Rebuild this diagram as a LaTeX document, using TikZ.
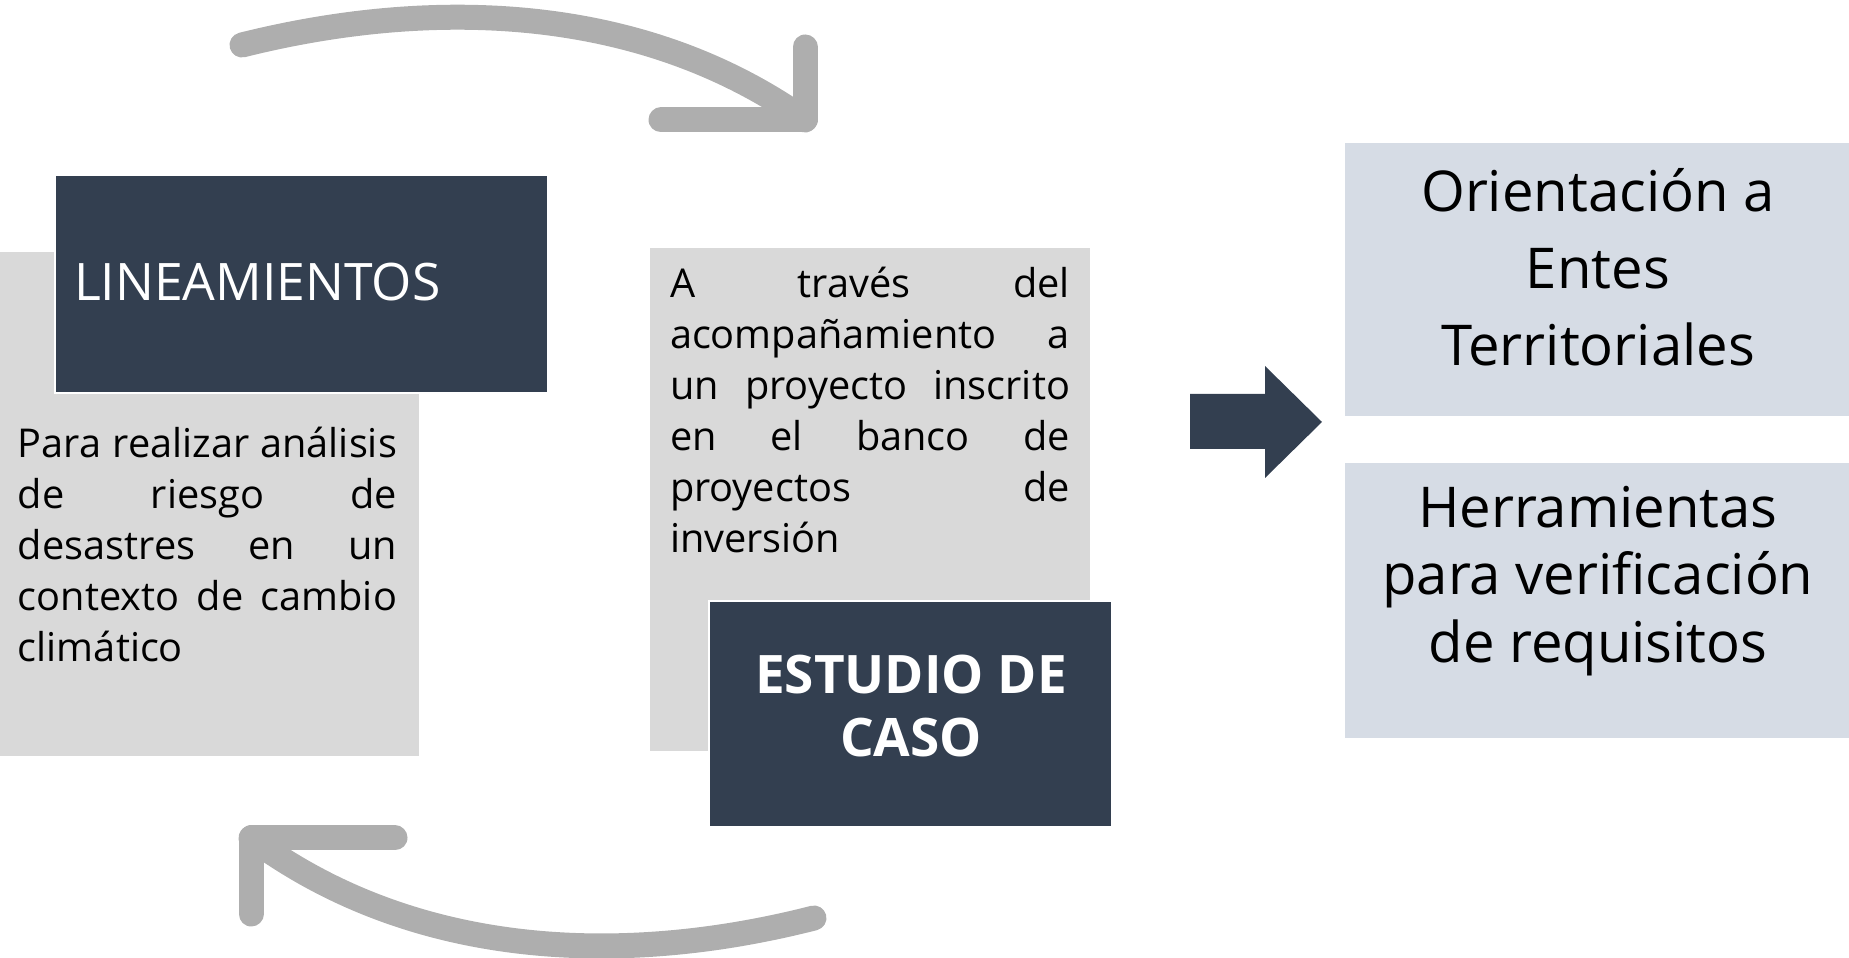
\documentclass[tikz,border=0pt]{standalone}
\usepackage{fontspec}
\setmainfont{Open Sans}
\usetikzlibrary{positioning}
\definecolor{slate}{HTML}{333F50}
\definecolor{lightgrey}{HTML}{D9D9D9}
\definecolor{paleblue}{HTML}{D6DCE5}
\definecolor{cyclegrey}{HTML}{AEAEAE}
\hyphenpenalty=10000
\exhyphenpenalty=10000

\begin{document}
\begin{tikzpicture}[every node/.style={inner sep=0pt, outer sep=0pt},
    greybox/.style={fill=lightgrey},
    darkbox/.style={fill=slate, draw=white, line width=0.6pt},
    bluebox/.style={fill=paleblue},
    bodytext/.style={align=justify, font=\fontsize{11.3}{14.5}\selectfont},
    cycle/.style={draw=cyclegrey, line width=0.25cm, line cap=round, line join=round}]
      \useasboundingbox (0, 0) rectangle (18.49, 9.58);
      \node[greybox, minimum width=4.19cm, minimum height=5.04cm] (lgrey) at (2.095, 4.54) {};
      \node[darkbox, minimum width=4.93cm, minimum height=2.18cm] (lin) at (3.015, 6.74) {};
      \node[greybox, minimum width=4.40cm, minimum height=5.03cm] (mgrey) at (8.70, 4.585) {};
      \node[darkbox, minimum width=4.03cm, minimum height=2.26cm] (caso) at (9.105, 2.44) {};
      \node[bluebox, minimum width=5.04cm, minimum height=2.73cm] (orient) at (15.97, 6.785) {};
      \node[bluebox, minimum width=5.04cm, minimum height=2.75cm] (herr) at (15.97, 3.575) {};
      \node[anchor=base west, text=white, font=\fontsize{14.7}{18}\selectfont] (lintxt) at (0.74, 6.57) {LINEAMIENTOS};
      \node[bodytext, text width=3.79cm, anchor=base west] (lbody) at (0.18, 5.00) {Para realizar análisis\linebreak de riesgo de\linebreak desastres en un\linebreak contexto de cambio\linebreak climático};
      \node[bodytext, text width=4.00cm, anchor=base west] (mbody) at (6.70, 6.60) {A través del\linebreak acompañamiento a\linebreak un proyecto inscrito\linebreak en el banco de\linebreak proyectos de\linebreak inversión};
      \node[align=center, text=white, font=\bfseries\fontsize{15.1}{17.9}\selectfont] (casotxt) at (9.11, 2.52) {ESTUDIO DE\\CASO};
      \node[align=center, font=\fontsize{16.0}{21.9}\selectfont] (orienttxt) at (15.98, 6.91) {Orientación a\\Entes\\Territoriales};
      \node[align=center, font=\fontsize{16.0}{19.3}\selectfont] (herrtxt) at (15.98, 3.77) {Herramientas\\para verificación\\de requisitos};
      % block arrow
      \fill[slate] (11.90, 5.09) -- (12.65, 5.09) -- (12.65, 4.80) -- (13.22, 5.36) -- (12.65, 5.92) -- (12.65, 5.64) -- (11.90, 5.64) -- cycle;
      % cycle arrows
      \coordinate (topstart) at (2.42, 9.13);
      \coordinate (topcorner) at (8.05, 8.38);
      \coordinate (botstart) at (8.14, 0.40);
      \coordinate (botcorner) at (2.51, 1.20);
      \draw[cycle] (topstart) .. controls (4.3, 9.6) and (6.4, 9.55) .. (topcorner);
      \draw[cycle] (8.05, 9.11) -- (topcorner) -- (6.61, 8.38);
      \draw[cycle] (botstart) .. controls (6.26, -0.08) and (4.16, -0.02) .. (botcorner);
      \draw[cycle] (2.51, 0.44) -- (botcorner) -- (3.95, 1.20);
    \end{tikzpicture}
\end{document}
